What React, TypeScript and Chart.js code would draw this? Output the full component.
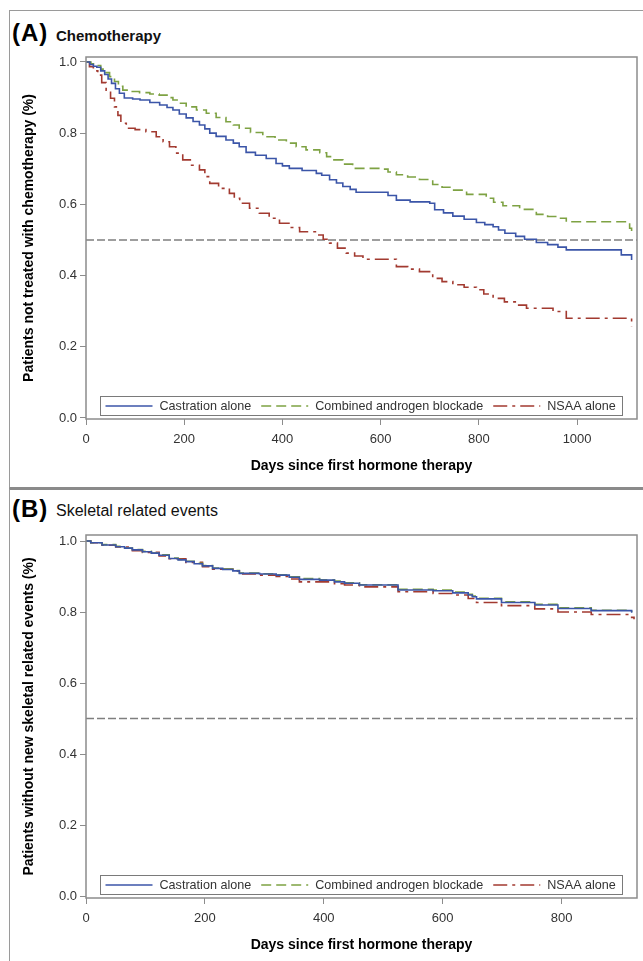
import React, { useEffect, useRef } from "react";
import { Chart, registerables } from "chart.js";

Chart.register(...registerables);

// ---------- data ----------
const SERIES_NAMES = ["Castration alone", "Combined androgen blockade", "NSAA alone"];
const SERIES_COLORS = ["#3b55a8", "#7ea243", "#a23a30"];
const REF_LEVEL = 0.5;
const Y_TICKS = [0, 0.2, 0.4, 0.6, 0.8, 1.0];
const A_X_TICKS = [0, 200, 400, 600, 800, 1000];
const B_X_TICKS = [0, 200, 400, 600, 800];
const A_X_MAX = 1122;
const B_X_MAX = 927;

const A_TITLE = "Chemotherapy";
const B_TITLE = "Skeletal related events";
const A_Y_TITLE = "Patients not treated with chemotherapy (%)";
const B_Y_TITLE = "Patients without new skeletal related events (%)";
const X_TITLE = "Days since first hormone therapy";

// [day, survival] — panel A
const A_CASTRATION: [number, number][] = [
  [0, 1.0], [8, 0.993], [15, 0.988], [22, 0.985], [30, 0.975], [38, 0.965], [45, 0.952],
  [52, 0.94], [60, 0.925], [68, 0.912], [78, 0.899], [95, 0.896], [110, 0.893], [130, 0.886],
  [150, 0.879], [165, 0.872], [177, 0.865], [190, 0.854], [204, 0.843], [218, 0.833],
  [231, 0.823], [242, 0.812], [252, 0.8], [265, 0.791], [285, 0.781], [300, 0.772],
  [312, 0.762], [326, 0.746], [345, 0.738], [367, 0.729], [387, 0.715], [400, 0.708],
  [414, 0.701], [440, 0.695], [469, 0.687], [480, 0.682], [496, 0.669], [510, 0.66],
  [523, 0.65], [538, 0.642], [550, 0.634], [615, 0.625], [632, 0.612], [660, 0.607],
  [700, 0.603], [710, 0.585], [728, 0.576], [747, 0.567], [770, 0.558], [795, 0.549],
  [812, 0.543], [829, 0.537], [840, 0.528], [853, 0.519], [875, 0.51], [893, 0.502],
  [917, 0.493], [940, 0.487], [961, 0.48], [978, 0.472], [1090, 0.458], [1111, 0.444],
];
const A_COMBINED: [number, number][] = [
  [0, 1.0], [10, 0.995], [20, 0.99], [30, 0.98], [40, 0.97], [48, 0.959], [58, 0.945],
  [66, 0.932], [75, 0.921], [90, 0.917], [109, 0.914], [130, 0.91], [149, 0.907],
  [165, 0.9], [177, 0.893], [190, 0.884], [204, 0.874], [225, 0.865], [245, 0.856],
  [265, 0.844], [285, 0.832], [300, 0.823], [312, 0.814], [335, 0.802], [360, 0.79],
  [385, 0.781], [408, 0.772], [428, 0.762], [448, 0.753], [476, 0.745], [490, 0.734],
  [503, 0.725], [523, 0.713], [543, 0.701], [600, 0.699], [615, 0.691], [632, 0.683],
  [655, 0.677], [679, 0.67], [706, 0.656], [725, 0.648], [747, 0.64], [775, 0.628],
  [815, 0.617], [830, 0.606], [849, 0.596], [883, 0.586], [917, 0.572], [940, 0.566],
  [961, 0.561], [978, 0.551], [1107, 0.533], [1111, 0.525],
];
const A_NSAA: [number, number][] = [
  [0, 1.0], [7, 0.987], [15, 0.975], [24, 0.963], [32, 0.942], [41, 0.921], [50, 0.898],
  [58, 0.874], [65, 0.85], [71, 0.828], [82, 0.814], [100, 0.81], [122, 0.804], [143, 0.79],
  [157, 0.776], [170, 0.762], [183, 0.744], [197, 0.725], [215, 0.71], [231, 0.697],
  [242, 0.678], [252, 0.659], [270, 0.645], [292, 0.631], [302, 0.617], [313, 0.603],
  [333, 0.589], [353, 0.575], [373, 0.561], [394, 0.547], [415, 0.535], [435, 0.523],
  [469, 0.514], [483, 0.502], [496, 0.491], [512, 0.477], [530, 0.463], [547, 0.455],
  [564, 0.446], [632, 0.425], [655, 0.418], [679, 0.411], [706, 0.392], [725, 0.383],
  [747, 0.374], [770, 0.367], [795, 0.36], [810, 0.348], [829, 0.336], [852, 0.326],
  [876, 0.317], [897, 0.308], [951, 0.299], [978, 0.28], [1111, 0.256],
];

// [day, survival] — panel B
const B_CASTRATION: [number, number][] = [
  [0, 1.0], [8, 0.995], [27, 0.989], [50, 0.984], [65, 0.98], [78, 0.975], [95, 0.97],
  [110, 0.966], [123, 0.96], [140, 0.951], [155, 0.947], [168, 0.942], [182, 0.936],
  [196, 0.93], [213, 0.923], [230, 0.92], [247, 0.916], [258, 0.909], [292, 0.907],
  [320, 0.904], [342, 0.898], [359, 0.892], [393, 0.89], [418, 0.885], [435, 0.881],
  [460, 0.876], [525, 0.862], [584, 0.86], [617, 0.854], [643, 0.848], [650, 0.843],
  [657, 0.837], [699, 0.827], [755, 0.82], [794, 0.81], [850, 0.804], [918, 0.798],
];
const B_COMBINED: [number, number][] = [
  [0, 1.0], [8, 0.995], [27, 0.99], [50, 0.985], [65, 0.98], [78, 0.976], [95, 0.971],
  [110, 0.966], [123, 0.961], [140, 0.952], [155, 0.948], [168, 0.943], [182, 0.937],
  [196, 0.931], [213, 0.924], [230, 0.921], [247, 0.917], [258, 0.91], [292, 0.908],
  [320, 0.905], [342, 0.899], [359, 0.894], [393, 0.891], [418, 0.887], [435, 0.882],
  [460, 0.877], [525, 0.864], [584, 0.862], [617, 0.856], [643, 0.85], [650, 0.845],
  [657, 0.839], [699, 0.829], [755, 0.822], [794, 0.812], [850, 0.805], [918, 0.8],
];
const B_NSAA: [number, number][] = [
  [0, 1.0], [8, 0.995], [27, 0.988], [50, 0.983], [78, 0.973], [95, 0.968], [123, 0.958],
  [140, 0.95], [168, 0.94], [196, 0.928], [213, 0.921], [247, 0.915], [258, 0.907],
  [292, 0.904], [320, 0.9], [342, 0.893], [359, 0.885], [418, 0.88], [435, 0.876],
  [460, 0.871], [525, 0.857], [584, 0.852], [617, 0.848], [643, 0.838], [657, 0.827],
  [699, 0.818], [755, 0.809], [794, 0.8], [850, 0.793], [918, 0.785], [922, 0.78],
];

// ---------- styles ----------
const FONT = '"Liberation Sans", Arial, Helvetica, sans-serif';
const DASHES: number[][] = [[], [10, 5], [14, 5, 3, 5]];

const frameLegendPlugin = {
  id: "frameLegend",
  afterDatasetsDraw(chart: any) {
    const { ctx, chartArea: a } = chart;
    ctx.save();
    ctx.setLineDash([]);
    ctx.strokeStyle = "#8c8c8c";
    ctx.lineWidth = 1.5;
    ctx.strokeRect(a.left, a.top, a.right - a.left, a.bottom - a.top);

    const boxL = Math.round(a.left + 14) + 0.5;
    const boxR = Math.round(a.right - 15) + 0.5;
    const boxB = Math.round(a.bottom - 4) + 0.5;
    const boxT = boxB - 19;
    ctx.fillStyle = "#fff";
    ctx.fillRect(boxL, boxT, boxR - boxL, boxB - boxT);
    ctx.strokeStyle = "#7a7a7a";
    ctx.lineWidth = 1;
    ctx.strokeRect(boxL, boxT, boxR - boxL, boxB - boxT);

    const cy = (boxT + boxB) / 2;
    let x = boxL + 5;
    ctx.font = `12.6px ${FONT}`;
    ctx.textBaseline = "middle";
    ctx.textAlign = "left";
    chart.data.datasets
      .filter((d: any) => SERIES_NAMES.includes(d.label))
      .forEach((ds: any) => {
        ctx.strokeStyle = ds.borderColor;
        ctx.lineWidth = 1.5;
        ctx.setLineDash(ds.borderDash || []);
        ctx.beginPath();
        ctx.moveTo(x, cy);
        ctx.lineTo(x + 47, cy);
        ctx.stroke();
        ctx.setLineDash([]);
        x += 47 + 7;
        ctx.fillStyle = "#333";
        ctx.fillText(ds.label, x, cy + 0.5);
        x += ctx.measureText(ds.label).width + 10;
      });
    ctx.restore();
  },
};

interface PanelCfg {
  series: [number, number][][];
  xTicks: number[];
  xMax: number;
  yMin: number;
  yMax: number;
  yTitle: string;
  padTop: number;
  xAxisH: number;
  xTitlePad: number;
}

function makeConfig(p: PanelCfg): any {
  const datasets: any[] = p.series.map((s, i) => ({
    label: SERIES_NAMES[i],
    data: s.map(([x, y]) => ({ x, y })),
    borderColor: SERIES_COLORS[i],
    borderDash: DASHES[i],
    borderWidth: 1.6,
    pointRadius: 0,
    stepped: "before",
    fill: false,
  }));
  datasets.push({
    label: "reference",
    data: [
      { x: 0, y: REF_LEVEL },
      { x: p.xMax, y: REF_LEVEL },
    ],
    borderColor: "#7f7f7f",
    borderDash: [8, 3],
    borderWidth: 1.6,
    pointRadius: 0,
    fill: false,
  });
  const tickFont = { family: FONT, size: 13 };
  const titleFont = { family: FONT, size: 14, weight: "bold" as const };
  return {
    type: "line",
    data: { datasets },
    plugins: [frameLegendPlugin],
    options: {
      animation: false,
      responsive: false,
      devicePixelRatio: 1,
      layout: { padding: { top: p.padTop, right: 6, left: 0, bottom: 0 } },
      plugins: { legend: { display: false }, tooltip: { enabled: false } },
      scales: {
        x: {
          type: "linear",
          min: 0,
          max: p.xMax,
          afterBuildTicks: (ax: any) => {
            ax.ticks = p.xTicks.map((v) => ({ value: v }));
          },
          afterFit: (ax: any) => {
            ax.height = p.xAxisH;
          },
          ticks: {
            font: tickFont,
            color: "#333",
            padding: 7,
            maxRotation: 0,
            autoSkip: false,
            callback: (v: number) => String(v),
          },
          grid: { drawOnChartArea: false, tickLength: 6, color: "#8c8c8c", lineWidth: 1 },
          border: { display: false },
          title: {
            display: true,
            text: X_TITLE,
            font: titleFont,
            color: "#000",
            padding: { top: 0, bottom: p.xTitlePad },
          },
        },
        y: {
          type: "linear",
          min: p.yMin,
          max: p.yMax,
          afterBuildTicks: (ax: any) => {
            ax.ticks = Y_TICKS.map((v) => ({ value: v }));
          },
          afterFit: (ax: any) => {
            ax.width = 76;
          },
          ticks: {
            font: tickFont,
            color: "#333",
            padding: 3,
            callback: (v: number) => Number(v).toFixed(1),
          },
          grid: { drawOnChartArea: false, tickLength: 6, color: "#8c8c8c", lineWidth: 1 },
          border: { display: false },
          title: {
            display: true,
            text: p.yTitle,
            font: titleFont,
            color: "#000",
            padding: { top: 11, bottom: 0 },
          },
        },
      },
    },
  };
}

const PANEL_A: PanelCfg = {
  series: [A_CASTRATION, A_COMBINED, A_NSAA],
  xTicks: A_X_TICKS,
  xMax: A_X_MAX,
  yMin: -0.003,
  yMax: 1.014,
  yTitle: A_Y_TITLE,
  padTop: 17,
  xAxisH: 61,
  xTitlePad: 5,
};
const PANEL_B: PanelCfg = {
  series: [B_CASTRATION, B_COMBINED, B_NSAA],
  xTicks: B_X_TICKS,
  xMax: B_X_MAX,
  yMin: -0.0056,
  yMax: 1.017,
  yTitle: B_Y_TITLE,
  padTop: 35,
  xAxisH: 63,
  xTitlePad: 7,
};

function KMChart({ cfg, top, height }: { cfg: PanelCfg; top: number; height: number }) {
  const ref = useRef<HTMLCanvasElement | null>(null);
  useEffect(() => {
    if (!ref.current) return;
    const chart = new Chart(ref.current, makeConfig(cfg));
    return () => chart.destroy();
  }, [cfg]);
  return (
    <canvas
      ref={ref}
      width={633}
      height={height}
      style={{ position: "absolute", left: 10, top, width: 633, height }}
    />
  );
}

function PanelTitle({
  letter,
  text,
  baseline,
  bold,
  size,
}: {
  letter: string;
  text: string;
  baseline: number;
  bold: boolean;
  size: number;
}) {
  return (
    <>
      <div
        style={{
          position: "absolute",
          left: 12,
          top: baseline - 0.8465 * 24,
          fontFamily: FONT,
          fontWeight: "bold",
          fontSize: 24,
          lineHeight: 1,
          letterSpacing: 1,
          color: "#000",
          whiteSpace: "nowrap",
        }}
      >
        {letter}
      </div>
      <div
        style={{
          position: "absolute",
          left: 56,
          top: baseline - 0.8465 * size,
          fontFamily: FONT,
          fontWeight: bold ? "bold" : "normal",
          fontSize: size,
          lineHeight: 1,
          color: "#111",
          whiteSpace: "nowrap",
        }}
      >
        {text}
      </div>
    </>
  );
}

export default function App() {
  return (
    <div
      style={{
        position: "relative",
        width: 643,
        height: 961,
        overflow: "hidden",
        background: "#fff",
      }}
    >
      <style>{"body{margin:0;background:#fff}"}</style>
      <div
        style={{
          position: "absolute",
          left: 9,
          top: 10,
          width: 640,
          height: 476,
          borderTop: "1px solid #9a9a9a",
          borderLeft: "1px solid #9a9a9a",
          borderBottom: "1px solid #8a8a8a",
        }}
      />
      <div
        style={{
          position: "absolute",
          left: 9,
          top: 488,
          width: 640,
          height: 480,
          borderTop: "2px solid #8a8a8a",
          borderLeft: "1px solid #9a9a9a",
        }}
      />
      <PanelTitle letter="(A)" text={A_TITLE} baseline={41} bold={true} size={15} />
      <PanelTitle letter="(B)" text={B_TITLE} baseline={517} bold={false} size={16} />
      <KMChart cfg={PANEL_A} top={40} height={440} />
      <KMChart cfg={PANEL_B} top={500} height={461} />
    </div>
  );
}
